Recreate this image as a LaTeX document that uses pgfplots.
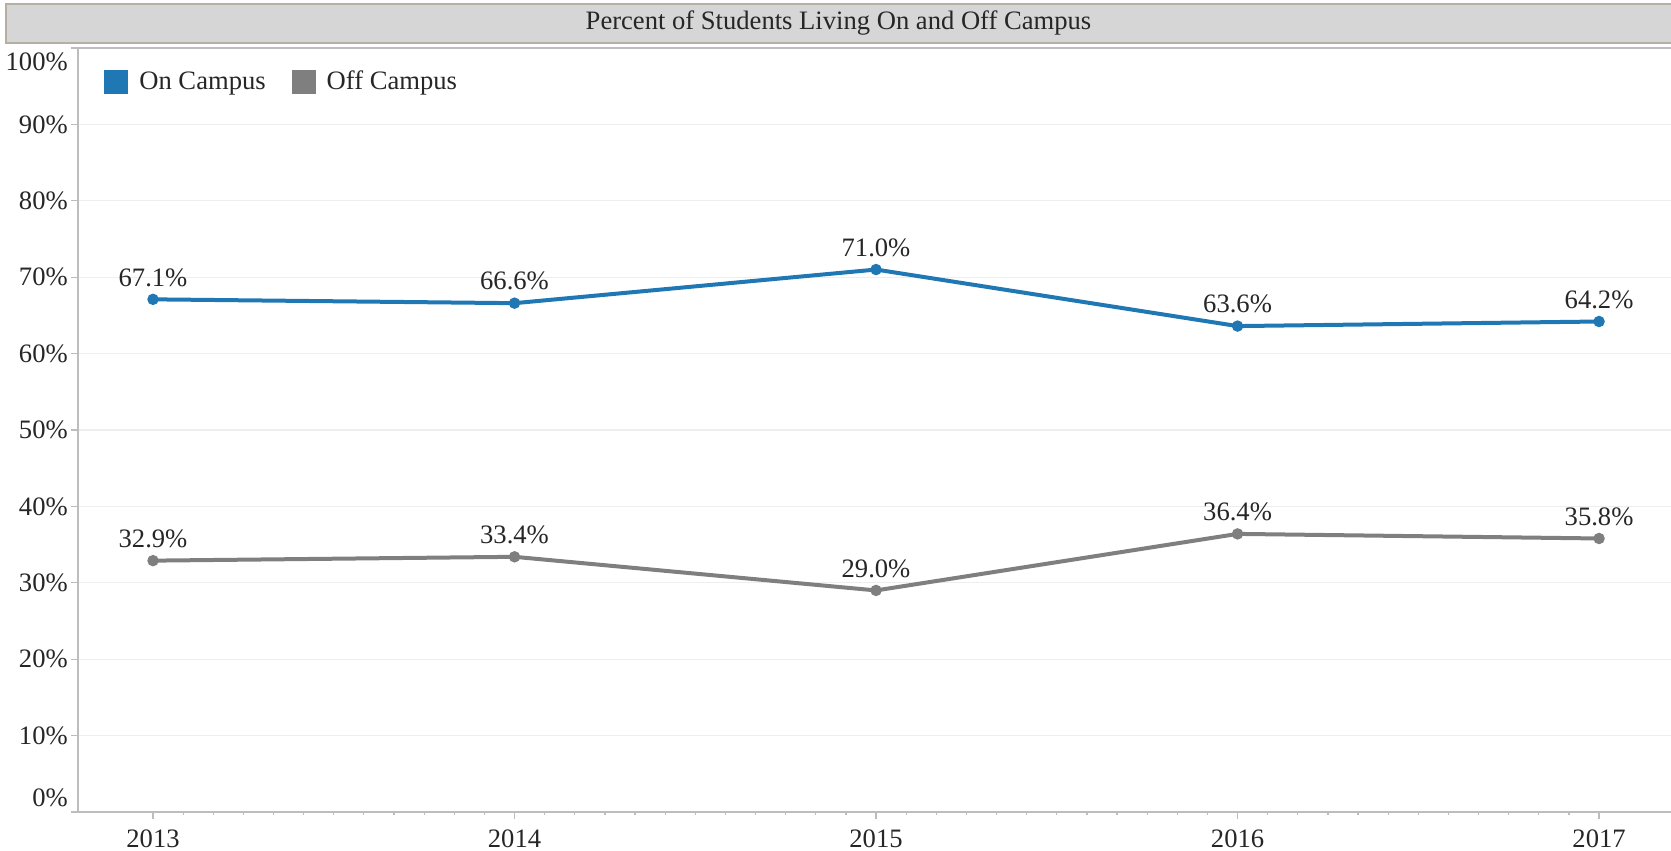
\documentclass[border=0pt]{standalone}
\usepackage{fontspec}
\setmainfont{Liberation Serif}
\usepackage{pgfplots}
\pgfplotsset{compat=1.18}
\definecolor{oncol}{HTML}{1F77B4}
\definecolor{offcol}{HTML}{7F7F7F}
\definecolor{gridc}{HTML}{EEEEEE}
\definecolor{axc}{HTML}{BDBDBD}
\definecolor{barfill}{HTML}{D6D6D6}
\definecolor{barline}{HTML}{B5B0A3}
\begin{document}
\fontsize{13.3pt}{15.5pt}\selectfont
\begin{tikzpicture}
\path[use as bounding box] (-39pt,-19.5pt) rectangle (796.5pt,406pt);
\draw[barline, fill=barfill, line width=1pt] (-36pt,384.5pt) rectangle (797pt,404pt);
\node[text=black!85] at (380.25pt,394.25pt) {Percent of Students Living On and Off Campus};
\begin{axis}[
  at={(0,0)}, anchor=south west,
  scale only axis, width=796.5pt, height=382pt,
  xmin=2012.7925, xmax=2017.199, ymin=0, ymax=100,
  clip=false,
  axis x line*=bottom, axis y line*=left,
  axis line style={axc, line width=0.6pt, -},
  xtick={2013,2014,2015,2016,2017},
  xticklabels={2013,2014,2015,2016,2017},
  minor x tick num=11,
  ytick={0,10,20,30,40,50,60,70,80,90,100},
  yticklabels={\smash{\raisebox{2.7pt}{0\%}},10\%,20\%,30\%,40\%,50\%,60\%,70\%,80\%,90\%,\smash{\raisebox{-11.5pt}{100\%}}},
  tick align=outside,
  major tick length=3.5pt, minor tick length=1.5pt,
  tick style={axc, line width=0.6pt},
  ymajorgrids, major grid style={gridc, line width=0.6pt},
  tick label style={text=black!85},
  yticklabel style={xshift=3pt},
  xticklabel style={yshift=-1pt},
  /pgf/number format/assume math mode=true,
  legend style={at={(axis description cs:0.0163,0.955)}, anchor=west, draw=none, fill=none, inner sep=0pt,
    legend columns=2, text=black!85, /tikz/every even column/.append style={column sep=11pt}},
  legend image code/.code={\fill[#1] (0pt,-5pt) rectangle (10pt,5pt); \path (13.5pt,0pt);},
  nodes near coords={\pgfmathprintnumber[fixed,fixed zerofill,precision=1]{\pgfplotspointmeta}\%},
  every node near coord/.append style={anchor=center, yshift=11pt, text=black!85},
]
\addplot[oncol, line width=2pt, mark=*, mark size=1.8pt] coordinates {
  (2013,67.1) (2014,66.6) (2015,71.0) (2016,63.6) (2017,64.2)};
\addlegendentry{On Campus}
\addplot[offcol, line width=2pt, mark=*, mark size=1.8pt] coordinates {
  (2013,32.9) (2014,33.4) (2015,29.0) (2016,36.4) (2017,35.8)};
\addlegendentry{Off Campus}
\draw[axc, line width=0.6pt] (axis description cs:0,1) -- (axis description cs:1,1);
\end{axis}
\end{tikzpicture}
\end{document}
